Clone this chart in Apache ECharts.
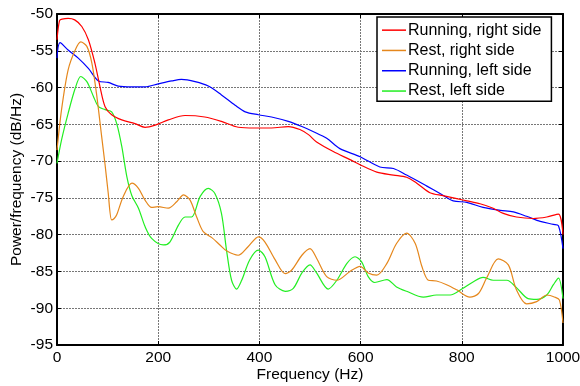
<!DOCTYPE html>
<html>
<head>
<meta charset="utf-8">
<script src="https://cdn.jsdelivr.net/npm/echarts@6/dist/echarts.min.js"></script>
<style>
  html, body { margin: 0; padding: 0; background: #fff; }
  #chart { width: 580px; height: 386px; }
</style>
</head>
<body>
<div id="chart"></div>
<script>
// Power spectral density estimates (dB/Hz) against frequency (Hz)
const runRightFreq = [0, 5, 10, 22, 35, 49, 62, 75, 85, 95, 108, 128, 154, 174, 194, 220, 253, 292, 325, 358, 391, 424, 457, 480, 497, 513, 546, 579, 599, 632, 665, 691, 711, 737, 763, 790, 810, 836, 862, 882, 908, 941, 968, 991, 1000];
const runRightPsd = [-53.5, -50.9, -50.7, -50.6, -50.8, -51.7, -53.5, -56.7, -59.9, -62.6, -63.7, -64.4, -64.9, -65.4, -65.1, -64.4, -63.8, -64.0, -64.6, -65.4, -65.5, -65.5, -65.3, -65.7, -66.4, -67.4, -68.7, -69.8, -70.5, -71.5, -71.9, -72.2, -73.0, -74.3, -74.7, -75.1, -75.4, -75.8, -76.4, -77.1, -77.6, -77.8, -77.6, -77.2, -80.0];

const restRightFreq = [0, 9, 22, 36, 47, 59, 69, 78, 88, 95, 101, 108, 113, 118, 131, 148, 161, 174, 187, 200, 220, 237, 250, 263, 276, 289, 306, 322, 335, 358, 378, 398, 411, 431, 451, 464, 484, 500, 513, 533, 553, 579, 599, 615, 632, 652, 671, 691, 708, 721, 734, 750, 770, 790, 816, 833, 849, 872, 892, 908, 928, 948, 968, 984, 993, 1000];
const restRightPsd = [-68.5, -63.0, -57.6, -54.9, -53.8, -54.4, -56.7, -60.8, -66.5, -70.5, -74.2, -78.0, -77.8, -77.3, -74.8, -73.0, -73.7, -75.3, -76.3, -76.2, -76.4, -75.5, -74.6, -75.3, -77.6, -79.6, -80.4, -81.4, -82.2, -82.8, -81.6, -80.3, -81.0, -83.4, -85.3, -84.8, -82.8, -81.9, -83.2, -85.7, -86.2, -85.0, -84.3, -85.2, -85.5, -83.9, -81.2, -79.8, -81.2, -84.3, -86.2, -86.3, -86.8, -87.5, -88.5, -88.0, -85.9, -83.3, -84.1, -87.5, -89.4, -89.1, -88.2, -88.5, -88.9, -92.0];

const runLeftFreq = [0, 6, 22, 42, 62, 82, 101, 121, 148, 174, 200, 227, 246, 273, 299, 325, 352, 372, 398, 424, 457, 484, 507, 533, 559, 599, 638, 665, 691, 731, 757, 783, 810, 842, 876, 902, 928, 955, 981, 991, 1000];
const runLeftPsd = [-56.0, -53.9, -54.9, -56.0, -57.4, -59.1, -59.3, -59.8, -59.9, -59.9, -59.5, -59.1, -58.9, -59.2, -59.8, -61.0, -62.4, -63.3, -63.7, -64.0, -64.6, -65.3, -66.0, -66.9, -68.3, -69.4, -70.8, -71.0, -71.9, -73.4, -74.4, -75.4, -75.6, -76.3, -76.7, -76.9, -77.5, -78.2, -78.6, -78.8, -81.9];

const restLeftFreq = [0, 9, 22, 36, 47, 59, 72, 82, 95, 108, 118, 128, 138, 148, 161, 174, 187, 210, 223, 240, 253, 266, 283, 299, 312, 325, 335, 345, 355, 365, 381, 398, 411, 431, 451, 467, 484, 500, 513, 536, 553, 573, 589, 602, 615, 628, 652, 671, 691, 724, 750, 777, 800, 823, 842, 862, 889, 908, 931, 948, 968, 981, 991, 1000];
const restLeftPsd = [-70.3, -67.1, -63.5, -60.1, -58.5, -59.2, -61.2, -62.6, -63.0, -63.3, -64.9, -68.0, -72.1, -74.7, -76.4, -78.9, -80.5, -81.4, -81.0, -78.7, -77.6, -77.6, -74.8, -73.7, -74.4, -77.1, -82.1, -86.2, -87.4, -86.2, -83.4, -82.1, -83.0, -86.8, -87.7, -87.3, -85.2, -84.1, -85.2, -87.4, -86.2, -83.9, -83.0, -83.7, -85.7, -86.5, -86.1, -87.1, -87.7, -88.5, -88.2, -88.2, -87.4, -86.4, -85.8, -86.2, -86.2, -87.2, -88.7, -88.8, -88.2, -86.8, -85.9, -88.7];

const seriesNames = ['Running, right side', 'Rest, right side', 'Running, left side', 'Rest, left side'];
const seriesColors = ['#ff0000', '#e5871c', '#0000ff', '#22ee22'];

const xTicks = { min: 0, max: 1000, interval: 200 };
const yTicks = { min: -95, max: -50, interval: 5 };

const pair = (xs, ys) => xs.map((x, i) => [x, ys[i]]);
const curves = [
  pair(runRightFreq, runRightPsd),
  pair(restRightFreq, restRightPsd),
  pair(runLeftFreq, runLeftPsd),
  pair(restLeftFreq, restLeftPsd)
];

const FONT = '"Liberation Sans", Arial, Helvetica, sans-serif';
const axisLine = { show: true, onZero: false, lineStyle: { color: '#000', width: 2 } };
const tickIn = { show: true, inside: true, length: 4, lineStyle: { color: '#000', width: 1 } };
const gridLine = { show: true, lineStyle: { color: '#777', type: [2, 1], width: 1 } };
const labelStyle = { color: '#000', fontFamily: FONT, fontSize: 15.5 };
const plainNumber = (v) => String(v);

const chart = echarts.init(document.getElementById('chart'), null, { renderer: 'canvas' });
chart.setOption({
  animation: false,
  backgroundColor: '#fff',
  textStyle: { fontFamily: FONT },
  grid: { left: 57, right: 17, top: 14, bottom: 41, containLabel: false, outerBoundsMode: 'none' },
  legend: {
    orient: 'vertical',
    left: 377,
    top: 17,
    data: seriesNames,
    icon: 'rect',
    itemWidth: 24,
    itemHeight: 1.5,
    itemGap: 0,
    padding: [3, 10, 0, 5],
    backgroundColor: '#fff',
    borderColor: '#000',
    borderWidth: 1.5,
    borderRadius: 0,
    textStyle: { color: '#000', fontFamily: FONT, fontSize: 16, lineHeight: 20.3, padding: [0, 0, 0, -3] }
  },
  xAxis: [
    {
      type: 'value', min: xTicks.min, max: xTicks.max, interval: xTicks.interval,
      name: 'Frequency (Hz)', nameLocation: 'middle', nameGap: 22, nameMoveOverlap: false,
      nameTextStyle: labelStyle,
      axisLine, axisTick: tickIn, splitLine: gridLine,
      axisLabel: Object.assign({ margin: 5, formatter: plainNumber }, labelStyle)
    },
    {
      type: 'value', position: 'top', min: xTicks.min, max: xTicks.max, interval: xTicks.interval,
      axisLine, axisTick: tickIn, splitLine: { show: false }, axisLabel: { show: false }
    }
  ],
  yAxis: [
    {
      type: 'value', min: yTicks.min, max: yTicks.max, interval: yTicks.interval,
      name: 'Power/frequency (dB/Hz)', nameLocation: 'middle', nameGap: 32, nameMoveOverlap: false,
      nameTextStyle: labelStyle,
      axisLine, axisTick: tickIn, splitLine: gridLine,
      axisLabel: Object.assign({ margin: 4, formatter: plainNumber }, labelStyle)
    },
    {
      type: 'value', position: 'right', min: yTicks.min, max: yTicks.max, interval: yTicks.interval,
      axisLine, axisTick: tickIn, splitLine: { show: false }, axisLabel: { show: false }
    }
  ],
  series: curves.map((data, i) => ({
    name: seriesNames[i],
    type: 'line',
    xAxisIndex: 0,
    yAxisIndex: 0,
    data,
    smooth: 0.3,
    symbol: 'none',
    color: seriesColors[i],
    lineStyle: { color: seriesColors[i], width: 1.2 },
    z: 3 + (3 - i)
  }))
});
</script>
</body>
</html>
